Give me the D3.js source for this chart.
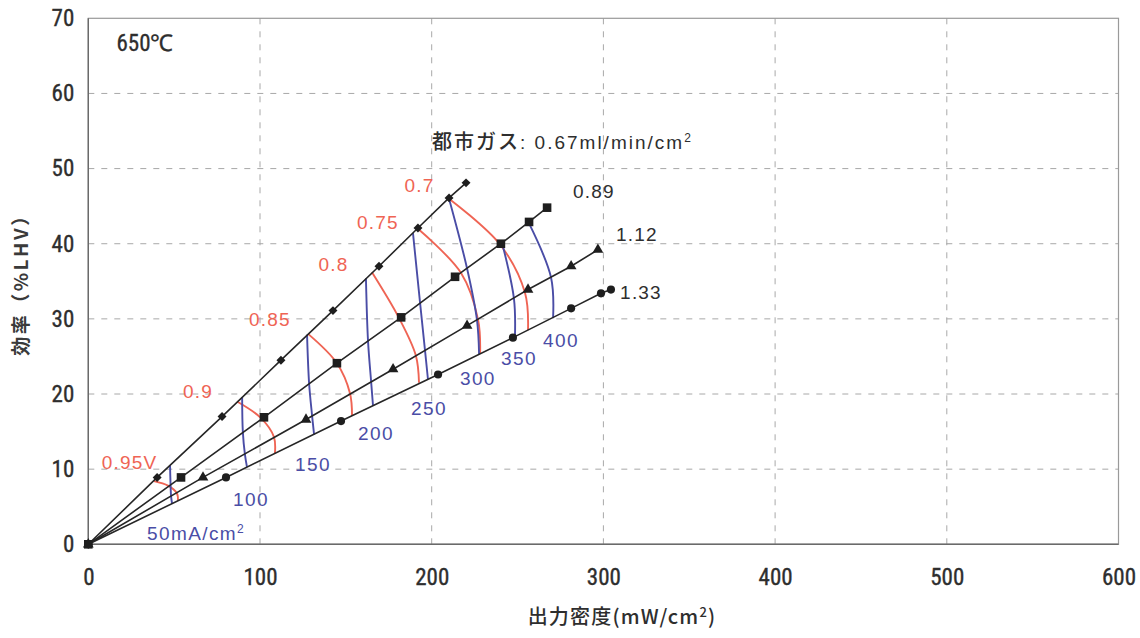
<!DOCTYPE html>
<html>
<head>
<meta charset="utf-8">
<script src="https://cdn.jsdelivr.net/npm/d3@7"></script>
<style>
  html, body { margin: 0; padding: 0; background: #ffffff; }
  svg { display: block; }
</style>
</head>
<body>
<svg id="chart" width="1140" height="638"></svg>
<script>
// ---- axis ticks ----
const xTicks = [0, 100, 200, 300, 400, 500, 600];
const yTicks = [0, 10, 20, 30, 40, 50, 60, 70];

// ---- measured points per city-gas flow [output density mW/cm2, efficiency %LHV] ----
const flowNames = ["0.67", "0.89", "1.12", "1.33"];
const flow067 = [[0, 0], [40.1, 8.9], [77.9, 17.0], [112.2, 24.5], [142.5, 31.1], [169.3, 37.0], [192.0, 42.1], [210.1, 46.1], [220.0, 48.1]];
const flow089 = [[0, 0], [54.0, 8.9], [102.3, 16.9], [144.8, 24.1], [182.2, 30.2], [213.6, 35.6], [240.3, 40.0], [256.7, 42.9], [267.2, 44.8]];
const flow112 = [[0, 0], [66.8, 8.9], [126.8, 16.6], [177.5, 23.3], [220.6, 29.1], [256.1, 33.9], [281.2, 37.0], [296.8, 39.2]];
const flow133 = [[0, 0], [80.2, 8.9], [147.2, 16.4], [203.7, 22.6], [247.3, 27.5], [281.2, 31.4], [298.6, 33.4], [304.4, 33.9]];

// ---- iso-current lines (mA/cm2), crossing points on the flow lines ----
const currentNames = ["50", "100", "150", "200", "250", "300", "350", "400"];
const cur50  = [[47.6, 10.5], [47.9, 8.0], [48.2, 6.4], [48.8, 5.4]];
const cur100 = [[89.6, 19.6], [90.0, 15.0], [91.2, 12.0], [92.4, 10.3]];
const cur150 = [[127.4, 27.9], [128.6, 21.4], [130.3, 17.2], [131.5, 14.6]];
const cur200 = [[161.7, 35.4], [162.9, 27.1], [164.7, 21.7], [165.8, 18.5]];
const cur250 = [[189.1, 41.4], [193.2, 32.2], [196.1, 25.8], [197.8, 22.0]];
const cur300 = [[210.1, 46.0], [220.6, 36.7], [226.4, 29.8], [227.6, 25.3]];
const cur350 = [[241.0, 40.1], [247.9, 32.7], [248.5, 27.7]];
const cur400 = [[256.7, 42.7], [269.5, 35.5], [270.7, 30.1]];

// ---- iso-voltage lines (V), crossing points on the flow lines ----
const voltageNames = ["0.7", "0.75", "0.8", "0.85", "0.9", "0.95V"];
const volt070 = [[210.1, 46.0], [239.8, 39.9], [254.3, 33.5], [256.1, 28.5]];
const volt075 = [[192.0, 42.0], [217.1, 36.1], [227.0, 29.9], [228.2, 25.4]];
const volt080 = [[165.2, 36.2], [181.0, 30.1], [190.8, 25.1], [192.6, 21.5]];
const volt085 = [[128.0, 28.0], [144.8, 24.1], [152.4, 20.1], [153.6, 17.1]];
const volt090 = [[86.6, 19.0], [100.6, 16.8], [108.1, 14.3], [108.7, 12.1]];
const volt095 = [[38.3, 8.4], [46.4, 7.8], [51.6, 6.8], [52.2, 5.8]];

// ---- layout ----
const W = 1140, H = 638;
const plot = { left: 88.3, right: 1118.5, top: 18.3, bottom: 544.3 };
const narrow = "'Liberation Sans Narrow','Arial Narrow','Roboto Condensed',sans-serif";
const sans = "'Liberation Sans',Arial,'Noto Sans CJK JP',sans-serif";
const cjk = "'Noto Sans CJK JP','Liberation Sans',sans-serif";
const inkDark = "#2e2e2e";
const redInk = "#ef6454";
const blueInk = "#4a4da6";

const svg = d3.select("#chart");
svg.append("rect").attr("width", W).attr("height", H).attr("fill", "#ffffff");

const x = d3.scaleLinear().domain([0, 600]).range([plot.left, plot.right]);
const y = d3.scaleLinear().domain([0, 70]).range([plot.bottom, plot.top]);

// dashed grid
const grid = svg.append("g").attr("stroke", "#a8a8a8").attr("stroke-width", 1)
  .attr("stroke-dasharray", "6,7").attr("fill", "none");
grid.selectAll("line.v").data(xTicks.slice(1, -1)).join("line")
  .attr("x1", d => x(d)).attr("x2", d => x(d))
  .attr("y1", y(70)).attr("y2", y(0));
grid.selectAll("line.h").data(yTicks.slice(1, -1)).join("line")
  .attr("x1", x(0)).attr("x2", x(600))
  .attr("y1", d => y(d)).attr("y2", d => y(d));

// plot frame
svg.append("rect")
  .attr("x", x(0)).attr("y", y(70))
  .attr("width", x(600) - x(0)).attr("height", y(0) - y(70))
  .attr("fill", "none").attr("stroke", "#9a9a9a").attr("stroke-width", 1.2);
svg.append("line").attr("x1", x(0)).attr("x2", x(600)).attr("y1", y(0)).attr("y2", y(0))
  .attr("stroke", "#6a6a6a").attr("stroke-width", 1.6);
svg.append("line").attr("x1", x(0)).attr("x2", x(0)).attr("y1", y(0)).attr("y2", y(70))
  .attr("stroke", "#6a6a6a").attr("stroke-width", 1.4);

// axes
const xAxis = svg.append("g").attr("transform", `translate(0,${y(0)})`)
  .call(d3.axisBottom(x).tickValues(xTicks).tickSize(0).tickFormat(d3.format("d")));
xAxis.select(".domain").remove();
xAxis.selectAll("text").attr("y", 33).attr("dy", "0.35em");

const yAxis = svg.append("g").attr("transform", `translate(${x(0)},0)`)
  .call(d3.axisLeft(y).tickValues(yTicks).tickSize(0).tickPadding(14).tickFormat(d3.format("d")));
yAxis.select(".domain").remove();

svg.selectAll(".tick text")
  .attr("font-family", narrow).attr("font-size", 23).attr("fill", inkDark)
  .attr("stroke", inkDark).attr("stroke-width", 0.35);

// axis titles
const xTitle = svg.append("text")
  .attr("x", 622).attr("y", 617).attr("dy", "0.35em")
  .attr("text-anchor", "middle").attr("font-family", cjk)
  .attr("font-size", 20).attr("font-weight", 500).attr("letter-spacing", 1.2)
  .attr("fill", inkDark);
xTitle.append("tspan").text("出力密度(mW/cm");
xTitle.append("tspan").attr("font-size", 13).attr("dy", -7).text("2");
xTitle.append("tspan").attr("dy", 7).text(")");

svg.append("text")
  .attr("transform", "translate(21,280) rotate(-90)")
  .attr("dy", "0.35em").attr("text-anchor", "middle")
  .attr("font-family", cjk).attr("font-size", 19).attr("font-weight", 700)
  .attr("letter-spacing", 2.5)
  .attr("fill", "#3a3a3a")
  .text("効率（%LHV）");

// iso-voltage and iso-current curves
const curve = d3.line().x(d => x(d[0])).y(d => y(d[1])).curve(d3.curveCatmullRom.alpha(0.5));
const voltLines = [volt070, volt075, volt080, volt085, volt090, volt095];
const curLines = [cur50, cur100, cur150, cur200, cur250, cur300, cur350, cur400];

svg.append("g").selectAll("path").data(voltLines).join("path")
  .attr("d", curve).attr("fill", "none")
  .attr("stroke", redInk).attr("stroke-width", 1.9);
svg.append("g").selectAll("path").data(curLines).join("path")
  .attr("d", curve).attr("fill", "none")
  .attr("stroke", blueInk).attr("stroke-width", 1.9);

// flow lines from the origin through the measured points
const flows = [flow067, flow089, flow112, flow133];
const straight = d3.line().x(d => x(d[0])).y(d => y(d[1]));
svg.append("g").selectAll("path").data(flows).join("path")
  .attr("d", straight).attr("fill", "none")
  .attr("stroke", "#262626").attr("stroke-width", 1.6);

// markers: diamond, square, triangle, circle (squares last so the origin shows a square)
const markerDefs = [
  { pts: flow133, sym: d3.symbolCircle, size: 52, rot: 0 },
  { pts: flow112, sym: d3.symbolTriangle, size: 50, rot: 0 },
  { pts: flow067, sym: d3.symbolSquare, size: 40, rot: 45 },
  { pts: flow089, sym: d3.symbolSquare, size: 74, rot: 0 }
];
markerDefs.forEach(m => {
  svg.append("g").selectAll("path").data(m.pts).join("path")
    .attr("d", d3.symbol().type(m.sym).size(m.size))
    .attr("transform", d => `translate(${x(d[0])},${y(d[1])}) rotate(${m.rot})`)
    .attr("fill", "#1e1e1e");
});

// labels (anchors in data units)
const voltAnchors = [[192.9, 47.8], [168.7, 42.9], [142.8, 37.2], [105.8, 30.0], [63.9, 20.3], [24.0, 10.9]];
svg.append("g").selectAll("text").data(voltageNames).join("text")
  .attr("x", (d, i) => x(voltAnchors[i][0])).attr("y", (d, i) => y(voltAnchors[i][1]))
  .attr("dy", "0.35em").attr("text-anchor", "middle")
  .attr("font-family", sans).attr("font-size", 19).attr("letter-spacing", 1.2)
  .attr("fill", redInk).text(d => d);

const curAnchors = [[34.2, 1.4], [94.8, 6.0], [130.9, 10.7], [167.6, 14.7], [198.4, 18.1], [226.9, 22.1], [250.8, 24.8], [275.3, 27.2]];
const curG = svg.append("g").attr("font-family", sans).attr("font-size", 19)
  .attr("letter-spacing", 1.4).attr("fill", blueInk);
currentNames.forEach((name, i) => {
  const t = curG.append("text")
    .attr("x", x(curAnchors[i][0])).attr("y", y(curAnchors[i][1])).attr("dy", "0.35em")
    .attr("text-anchor", i === 0 ? "start" : "middle");
  if (i === 0) {
    t.append("tspan").text(name + "mA/cm");
    t.append("tspan").attr("font-size", 12).attr("dy", -7).text("2");
  } else {
    t.text(name);
  }
});

// flow labels
const flowAnchors = [[200.2, 53.5], [294.5, 47.0], [319.5, 41.2], [321.9, 33.5]];
const flowG = svg.append("g").attr("font-family", sans).attr("font-size", 19).attr("fill", inkDark);
flowNames.forEach((name, i) => {
  const t = flowG.append("text")
    .attr("x", x(flowAnchors[i][0])).attr("y", y(flowAnchors[i][1])).attr("dy", "0.35em")
    .attr("text-anchor", i === 0 ? "start" : "middle").attr("letter-spacing", i === 0 ? 2 : 1.2);
  if (i === 0) {
    t.append("tspan").attr("font-family", cjk).attr("font-size", 20).attr("font-weight", 500).text("都市ガス");
    t.append("tspan").text(": " + name + "ml/min/cm");
    t.append("tspan").attr("font-size", 12).attr("dy", -7).text("2");
  } else {
    t.text(name);
  }
});

// temperature tag
svg.append("text")
  .attr("x", x(33)).attr("y", y(66.7)).attr("dy", "0.35em").attr("text-anchor", "middle")
  .attr("font-family", narrow).attr("font-size", 23).attr("fill", inkDark)
  .attr("stroke", inkDark).attr("stroke-width", 0.3)
  .text("650℃");
</script>
</body>
</html>
